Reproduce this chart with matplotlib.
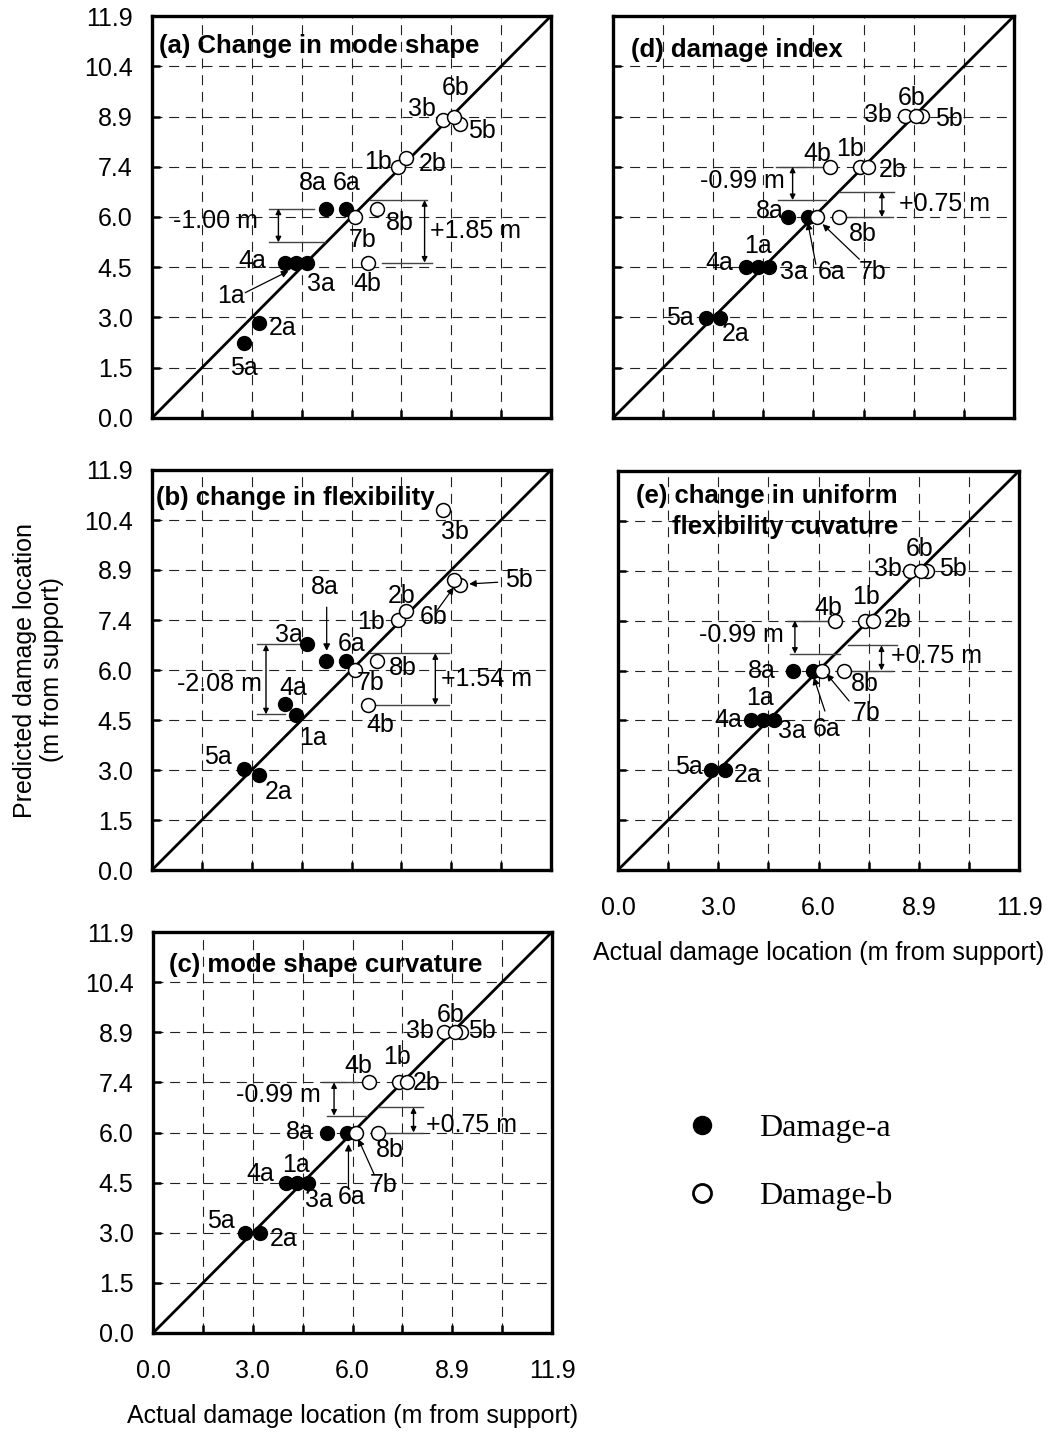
import matplotlib
matplotlib.use("Agg")
import matplotlib.pyplot as plt
from matplotlib.lines import Line2D

plt.rcParams["font.family"] = ["Liberation Sans", "DejaVu Sans"]

# ---------------------------------------------------------------- data
SPAN = 11.9  # beam span (m)

cases_a = ["1a", "2a", "3a", "4a", "5a", "6a", "8a"]
cases_b = ["1b", "2b", "3b", "4b", "5b", "6b", "7b", "8b"]

# actual damage locations (m from support), same for every method
actual_a = [4.30, 3.18, 4.63, 3.96, 2.75, 5.80, 5.20]
actual_b = [7.33, 7.58, 8.68, 6.45, 9.18, 9.00, 6.06, 6.70]

# predicted damage locations (m from support) for each method
mode_shape_a = [4.60, 2.81, 4.60, 4.60, 2.22, 6.20, 6.20]
mode_shape_b = [7.44, 7.70, 8.81, 4.60, 8.69, 8.92, 5.95, 6.20]

flexibility_a = [4.60, 2.83, 6.71, 4.93, 3.00, 6.21, 6.21]
flexibility_b = [7.44, 7.71, 10.71, 4.91, 8.47, 8.64, 5.96, 6.23]

curvature_a = [4.46, 2.97, 4.46, 4.46, 2.97, 5.95, 5.95]
curvature_b = [7.44, 7.44, 8.93, 7.44, 8.93, 8.93, 5.95, 5.95]

damage_index_a = [4.46, 2.97, 4.46, 4.46, 2.97, 5.95, 5.95]
damage_index_b = [7.44, 7.44, 8.93, 7.44, 8.93, 8.93, 5.95, 5.95]

uniform_flex_a = [4.46, 2.97, 4.46, 4.46, 2.97, 5.95, 5.95]
uniform_flex_b = [7.44, 7.44, 8.93, 7.44, 8.93, 8.93, 5.95, 5.95]

tick_labels = ["0.0", "1.5", "3.0", "4.5", "6.0", "7.4", "8.9", "10.4", "11.9"]
legend_labels = ["Damage-a", "Damage-b"]

# ---------------------------------------------------------------- layout
W, H = 1055, 1433
FS = 18          # regular text (pt)
FS_TITLE = 18.5  # panel titles
MS = 10          # marker size

fig = plt.figure(figsize=(W / 100, H / 100), dpi=100)


def add_axes(left, top, right, bottom):
    return fig.add_axes([left / W, 1 - bottom / H, (right - left) / W, (bottom - top) / H])


panels = [
    dict(
        box=(152, 16, 551, 418), pred_a=mode_shape_a, pred_b=mode_shape_b,
        ylabels=True, xlabels=False,
        title=[("(a) Change in mode shape", 0.20, 11.0)],
        labels=[("6b", 9.06, 9.76), ("3b", 8.06, 9.14), ("5b", 9.84, 8.49),
                ("1b", 6.75, 7.58), ("2b", 8.36, 7.51), ("8a", 4.80, 6.96),
                ("6a", 5.81, 6.96), ("8b", 7.40, 5.78), ("7b", 6.27, 5.28),
                ("4a", 3.00, 4.64), ("3a", 5.04, 3.97), ("4b", 6.43, 3.97),
                ("1a", 2.36, 3.60), ("2a", 3.91, 2.67), ("5a", 2.73, 1.48)],
        pointers=[((2.78, 3.71), (4.07, 4.35))],
        brackets=[dict(case="8a", pred_x=(3.48, 4.82), act_x=(3.48, 5.15), arrow_x=3.77, text_xy=(1.88, 5.83)),
                  dict(case="4b", pred_x=(6.86, 8.36), act_x=(6.49, 8.20), arrow_x=8.13, text_xy=(9.65, 5.55))],
    ),
    dict(
        box=(152, 470, 551, 870), pred_a=flexibility_a, pred_b=flexibility_b,
        ylabels=True, xlabels=False,
        title=[("(b) change in flexibility", 0.11, 11.08)],
        labels=[("3b", 9.03, 10.05), ("5b", 10.94, 8.62), ("6b", 8.39, 7.54),
                ("2b", 7.44, 8.15), ("1b", 6.53, 7.39), ("8a", 5.15, 8.42),
                ("3a", 4.07, 6.99), ("6a", 5.95, 6.73), ("8b", 7.49, 6.01),
                ("7b", 6.53, 5.57), ("4a", 4.20, 5.42), ("4b", 6.80, 4.30),
                ("1a", 4.81, 3.94), ("5a", 1.97, 3.35), ("2a", 3.77, 2.32)],
        pointers=[((5.21, 7.82), (5.21, 6.52)), ((8.50, 7.72), (9.00, 8.41)),
                  ((10.31, 8.56), (9.46, 8.51))],
        brackets=[dict(case="3a", pred_x=(3.13, 4.60), act_x=(3.13, 3.98), arrow_x=3.40, text_xy=(2.02, 5.52)),
                  dict(case="4b", pred_x=(6.62, 8.87), act_x=(6.50, 8.87), arrow_x=8.45, text_xy=(9.99, 5.68))],
    ),
    dict(
        box=(153, 932, 552, 1333), pred_a=curvature_a, pred_b=curvature_b,
        ylabels=True, xlabels=True,
        title=[("(c) mode shape curvature", 0.48, 10.92)],
        labels=[("6b", 8.89, 9.45), ("3b", 7.96, 8.95), ("5b", 9.80, 8.95),
                ("1b", 7.29, 8.19), ("4b", 6.12, 7.91), ("2b", 8.17, 7.43),
                ("8a", 4.37, 5.96), ("8b", 7.05, 5.42), ("1a", 4.26, 5.00),
                ("4a", 3.19, 4.72), ("7b", 6.87, 4.39), ("6a", 5.91, 4.04),
                ("3a", 4.95, 3.94), ("5a", 2.02, 3.33), ("2a", 3.89, 2.79)],
        pointers=[((5.83, 4.34), (5.83, 5.61)), ((6.60, 4.70), (6.12, 5.76))],
        brackets=[dict(case="4b", pred_x=(5.06, 6.07), act_x=(5.20, 6.39), arrow_x=5.40, text_xy=(3.73, 7.07)),
                  dict(case="8b", pred_x=(6.87, 8.04), act_x=(6.71, 8.04), arrow_x=7.77, text_xy=(9.50, 6.16))],
    ),
    dict(
        box=(613, 16, 1014, 418), pred_a=damage_index_a, pred_b=damage_index_b,
        ylabels=False, xlabels=False,
        title=[("(d) damage index", 0.54, 10.89)],
        labels=[("6b", 8.87, 9.48), ("3b", 7.85, 8.96), ("5b", 9.97, 8.86),
                ("4b", 6.07, 7.82), ("1b", 7.04, 7.97), ("2b", 8.30, 7.33),
                ("8a", 4.64, 6.14), ("8b", 7.41, 5.45), ("1a", 4.30, 5.10),
                ("4a", 3.16, 4.60), ("3a", 5.38, 4.31), ("6a", 6.50, 4.31),
                ("7b", 7.70, 4.31), ("5a", 1.98, 2.95), ("2a", 3.65, 2.48)],
        pointers=[((6.02, 4.55), (5.78, 5.79)), ((7.31, 4.70), (6.22, 5.74))],
        brackets=[dict(case="4b", pred_x=(4.84, 6.22), act_x=(4.89, 6.32), arrow_x=5.33, text_xy=(3.85, 7.03)),
                  dict(case="8b", pred_x=(6.91, 8.30), act_x=(6.72, 8.35), arrow_x=7.98, text_xy=(9.83, 6.34))],
    ),
    dict(
        box=(618, 471, 1019, 870), pred_a=uniform_flex_a, pred_b=uniform_flex_b,
        ylabels=False, xlabels=True,
        title=[("(e) change in uniform", 0.53, 11.14), ("flexibility cuvature", 1.59, 10.23)],
        labels=[("6b", 8.95, 9.57), ("3b", 8.02, 8.97), ("5b", 9.94, 8.97),
                ("1b", 7.37, 8.14), ("4b", 6.24, 7.81), ("2b", 8.31, 7.46),
                ("8a", 4.26, 5.95), ("8b", 7.32, 5.56), ("1a", 4.21, 5.12),
                ("7b", 7.37, 4.69), ("4a", 3.27, 4.46), ("6a", 6.19, 4.21),
                ("3a", 5.15, 4.15), ("5a", 2.09, 3.07), ("2a", 3.86, 2.82)],
        pointers=[((6.14, 4.74), (5.81, 5.74)), ((6.86, 5.04), (6.19, 5.85))],
        brackets=[dict(case="4b", pred_x=(5.05, 6.19), act_x=(5.10, 6.60), arrow_x=5.25, text_xy=(3.67, 7.02)),
                  dict(case="8b", pred_x=(6.88, 8.14), act_x=(6.83, 8.28), arrow_x=7.82, text_xy=(9.45, 6.38))],
    ),
]

ticks = [SPAN * k / 8 for k in range(9)]
grid_style = dict(color="#222222", linewidth=0.8, linestyle=(0, (9, 6)))
axes = []

for p in panels:
    ax = add_axes(*p["box"])
    axes.append(ax)
    ax.set_xlim(0, SPAN)
    ax.set_ylim(0, SPAN)
    ax.set_xticks(ticks)
    ax.set_yticks(ticks)
    ax.set_yticklabels(tick_labels)
    ax.set_xticklabels([t if i % 2 == 0 else "" for i, t in enumerate(tick_labels)])
    ax.tick_params(direction="in", length=6, width=1.8, labelsize=FS,
                   labelleft=p["ylabels"], labelbottom=p["xlabels"])
    ax.tick_params(axis="y", pad=14)
    ax.tick_params(axis="x", pad=19)
    for s in ax.spines.values():
        s.set_linewidth(2.4)
    ax.grid(True, **grid_style)
    ax.set_axisbelow(True)

    # 1:1 line
    ax.axline((0, 0), slope=1, color="black", linewidth=2.0, zorder=2)

    ax.plot(actual_a, p["pred_a"], "o", ms=MS, mfc="black", mec="black", mew=1.0,
            linestyle="none", zorder=4)
    ax.plot(actual_b, p["pred_b"], "o", ms=MS, mfc="white", mec="black", mew=1.1,
            linestyle="none", zorder=4)

    for txt, x, y in p["title"]:
        ax.text(x, y, txt, fontsize=FS_TITLE, fontweight="bold", ha="left", va="center", zorder=5)
    for txt, x, y in p["labels"]:
        ax.text(x, y, txt, fontsize=FS, ha="center", va="center", zorder=5)
    for tail, head in p["pointers"]:
        ax.annotate("", xy=head, xytext=tail,
                    arrowprops=dict(arrowstyle="-|>", color="black", lw=0.9,
                                    mutation_scale=10, shrinkA=0, shrinkB=0), zorder=5)

    # offset brackets: predicted vs actual location of one case
    for b in p["brackets"]:
        c = b["case"]
        if c in cases_a:
            i = cases_a.index(c)
            act, pred = actual_a[i], p["pred_a"][i]
        else:
            i = cases_b.index(c)
            act, pred = actual_b[i], p["pred_b"][i]
        ax.plot(b["pred_x"], [pred, pred], color="#444444", lw=1.0, zorder=3)
        ax.plot(b["act_x"], [act, act], color="#444444", lw=1.0, zorder=3)
        ax.annotate("", xy=(b["arrow_x"], act), xytext=(b["arrow_x"], pred),
                    arrowprops=dict(arrowstyle="<|-|>", color="black", lw=1.0,
                                    mutation_scale=8, shrinkA=0, shrinkB=0), zorder=3)
        ax.text(*b["text_xy"], f"{act - pred:+.2f} m", fontsize=FS,
                ha="center", va="center", zorder=5)

ax_a, ax_b, ax_c, ax_d, ax_e = axes
ax_b.set_ylabel("Predicted damage location\n(m from support)", fontsize=FS, labelpad=14)
ax_c.set_xlabel("Actual damage location (m from support)", fontsize=FS, labelpad=15)
ax_e.set_xlabel("Actual damage location (m from support)", fontsize=FS, labelpad=15)

handles = [
    Line2D([], [], marker="o", ms=13, mfc="black", mec="black", linestyle="none"),
    Line2D([], [], marker="o", ms=13, mfc="white", mec="black", mew=2.0, linestyle="none"),
]
fig.legend(handles, legend_labels, loc="center left",
           bbox_to_anchor=(686 / W, 1 - 1162.5 / H), frameon=False,
           prop=dict(family=["Liberation Serif", "DejaVu Serif"], size=23),
           handlelength=1.0, handletextpad=1.3, labelspacing=1.22,
           borderpad=0, borderaxespad=0)

fig.savefig("out.png", dpi=100)
